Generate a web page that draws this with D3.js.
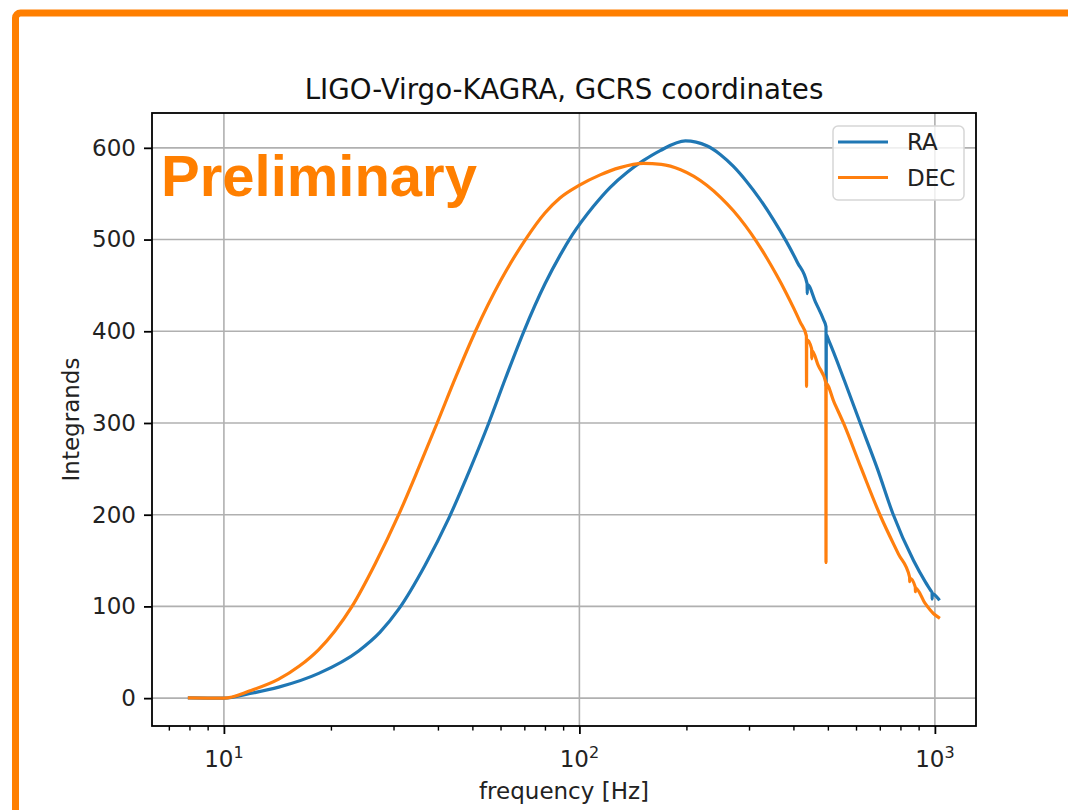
<!DOCTYPE html>
<html>
<head>
<meta charset="utf-8">
<script src="https://cdn.jsdelivr.net/npm/d3@7"></script>
<style>
  body { margin: 0; background: #fff; }
  svg { display: block; font-family: "DejaVu Sans", sans-serif; }
</style>
</head>
<body>
<div id="chart"></div>
<script>
// integrand vs frequency
const freqRA = [8, 9, 10, 11.84, 14.26, 18.48, 23.93, 27.5, 31.02, 36.8, 42.9, 49.3, 55.6, 62, 69.8, 80.1, 88.3, 95.5,
  109.4, 122.1, 136.3, 151.2, 168.8, 198.7, 228.2, 249, 271.2, 294.9, 323, 351.3, 382, 410.5, 437, 437.5, 438,
  461.2, 486.8, 494, 494.5, 495, 502.8, 556.7, 615, 689.3, 762, 870.8, 940.8, 975, 982, 982.5, 983, 1024]
const valRA = [0.2, 0.1, 0, 5, 12, 27, 51.5, 72, 97, 145, 196, 250, 300, 349, 400, 452, 483, 505,
  536, 557, 573.5, 586, 597, 607.6, 602.2, 592.8, 579.7, 563.6, 543.3, 521.8, 498, 475, 452, 441, 451,
  432, 412, 405, 340, 396, 390, 346, 301, 250, 201, 150, 126.5, 117, 115, 108, 114, 108]

const freqDEC = [8, 9, 10, 11.84, 14.26, 16.3, 18.48, 20.5, 22.93, 26.6, 31.02, 35.3, 39.8, 45, 51, 60, 70.5, 80, 88,
  99.8, 114.4, 130, 151.3, 170, 192.7, 210, 228.2, 250, 271.2, 293, 315, 337, 359, 380, 401, 418, 435, 435.5, 436,
  450, 450.5, 451, 470, 493.5, 494, 494.5, 520, 553, 620, 703, 790, 849, 849.5, 850, 881, 881.5, 882, 940, 992, 1024]
const valDEC = [0.3, 0.1, 0, 8, 20.7, 35, 53, 73, 100, 146, 200, 251, 300, 351, 400, 455, 500, 529, 545,
  559, 570.5, 578.4, 583, 582, 576.2, 568.9, 559.2, 545.8, 531.4, 515.2, 497.8, 479.6, 461, 443.2, 425, 410, 395, 340, 391,
  381, 370, 379, 362.5, 344, 148, 343, 323, 300, 251, 198.6, 157, 132, 127, 131, 121, 116, 120, 103, 92, 88]

const yTicks = [0, 100, 200, 300, 400, 500, 600]
const xMajor = [10, 100, 1000]
const xExponents = ["1", "2", "3"]
const seriesNames = ["RA", "DEC"]
const colors = ["#1f77b4", "#ff7f0e"]

const width = 1068
const height = 810
const plot = { left: 152, right: 976, top: 113, bottom: 726 }
const accent = "#ff7f00"

const svg = d3.select("#chart").append("svg")
  .attr("width", width)
  .attr("height", height)

svg.append("rect").attr("width", width).attr("height", height).attr("fill", "#fff")

// orange frame in the corner
svg.append("rect")
  .attr("x", 15.5).attr("y", 13)
  .attr("width", 1200).attr("height", 1000)
  .attr("rx", 5)
  .attr("fill", "none")
  .attr("stroke", accent)
  .attr("stroke-width", 7)

// matplotlib style 5% margins (log space on x)
const allF = freqRA.concat(freqDEC)
const lo = Math.log10(d3.min(allF)), hi = Math.log10(d3.max(allF))
const padF = 0.05 * (hi - lo)
const x = d3.scaleLog()
  .domain([Math.pow(10, lo - padF), Math.pow(10, hi + padF)])
  .range([plot.left, plot.right])

const allV = valRA.concat(valDEC)
const vmin = d3.min(allV), vmax = d3.max(allV)
const padV = 0.05 * (vmax - vmin)
const y = d3.scaleLinear()
  .domain([vmin - padV, vmax + padV])
  .range([plot.bottom, plot.top])

// grid
const grid = svg.append("g").attr("stroke", "#b0b0b0").attr("stroke-width", 1.6)
grid.selectAll(".gx").data(xMajor).join("line")
  .attr("x1", d => x(d)).attr("x2", d => x(d))
  .attr("y1", plot.top).attr("y2", plot.bottom)
grid.selectAll(".gy").data(yTicks).join("line")
  .attr("x1", plot.left).attr("x2", plot.right)
  .attr("y1", d => y(d)).attr("y2", d => y(d))

// lines
svg.append("clipPath").attr("id", "clip")
  .append("rect")
  .attr("x", plot.left).attr("y", plot.top)
  .attr("width", plot.right - plot.left).attr("height", plot.bottom - plot.top)

const line = d3.line()
  .x(d => x(d[0]))
  .y(d => y(d[1]))
  .curve(d3.curveMonotoneX) // the sampled curve is smooth, keep it that way
const series = [d3.zip(freqRA, valRA), d3.zip(freqDEC, valDEC)]

svg.append("g").attr("clip-path", "url(#clip)")
  .selectAll("path")
  .data(series)
  .join("path")
  .attr("d", line)
  .attr("fill", "none")
  .attr("stroke", (d, i) => colors[i])
  .attr("stroke-width", 3.2)
  .attr("stroke-linejoin", "round")
  .attr("stroke-linecap", "square")

// y axis
const yAxis = svg.append("g")
  .attr("transform", `translate(${plot.left},0)`)
  .call(d3.axisLeft(y).tickValues(yTicks).tickSize(8).tickPadding(8))
yAxis.select(".domain").remove()
yAxis.selectAll("line").attr("stroke", "#000").attr("stroke-width", 1.8)
yAxis.selectAll("text").attr("font-size", 23).attr("font-family", "DejaVu Sans").attr("fill", "#222")

// x axis, minor then major ticks
const xMinor = []
for (let dec = 1; dec <= 1000; dec *= 10) {
  for (let k = 2; k <= 9; k++) {
    const v = k * dec
    if (v > x.domain()[0] && v < x.domain()[1]) xMinor.push(v)
  }
}
const xMinorAxis = svg.append("g")
  .attr("transform", `translate(0,${plot.bottom})`)
  .call(d3.axisBottom(x).tickValues(xMinor).tickSize(4.6).tickFormat(""))
xMinorAxis.select(".domain").remove()
xMinorAxis.selectAll("line").attr("stroke", "#000").attr("stroke-width", 1.4)

const xAxis = svg.append("g")
  .attr("transform", `translate(0,${plot.bottom})`)
  .call(d3.axisBottom(x).tickValues(xMajor).tickSize(8).tickFormat(""))
xAxis.select(".domain").remove()
xAxis.selectAll("line").attr("stroke", "#000").attr("stroke-width", 1.8)

const xLabels = svg.append("g")
  .selectAll("text")
  .data(xMajor)
  .join("text")
  .attr("x", d => x(d))
  .attr("y", plot.bottom + 41)
  .attr("text-anchor", "middle")
  .attr("font-size", 23)
  .attr("fill", "#222")
xLabels.append("tspan").text("10")
xLabels.append("tspan")
  .attr("font-size", 16)
  .attr("dy", -8.6)
  .text((d, i) => xExponents[i])

// spines
svg.append("rect")
  .attr("x", plot.left).attr("y", plot.top)
  .attr("width", plot.right - plot.left).attr("height", plot.bottom - plot.top)
  .attr("fill", "none")
  .attr("stroke", "#000")
  .attr("stroke-width", 1.8)

// labels
svg.append("text")
  .attr("x", (plot.left + plot.right) / 2)
  .attr("y", 99)
  .attr("text-anchor", "middle")
  .attr("font-size", 27.7)
  .attr("fill", "#111")
  .text("LIGO-Virgo-KAGRA, GCRS coordinates")

svg.append("text")
  .attr("x", (plot.left + plot.right) / 2)
  .attr("y", 799)
  .attr("text-anchor", "middle")
  .attr("font-size", 23)
  .attr("fill", "#222")
  .text("frequency [Hz]")

svg.append("text")
  .attr("transform", `translate(79,${(plot.top + plot.bottom) / 2}) rotate(-90)`)
  .attr("text-anchor", "middle")
  .attr("font-size", 23)
  .attr("fill", "#222")
  .text("Integrands")

// legend
const legend = svg.append("g").attr("transform", "translate(833,126)")
legend.append("rect")
  .attr("width", 131).attr("height", 74)
  .attr("rx", 5)
  .attr("fill", "#fff").attr("fill-opacity", 0.8)
  .attr("stroke", "#d6d6d6").attr("stroke-width", 1.5)
const items = legend.selectAll("g.item")
  .data(seriesNames)
  .join("g")
  .attr("transform", (d, i) => `translate(0,${16 + i * 35.5})`)
items.append("line")
  .attr("x1", 5).attr("x2", 55)
  .attr("stroke", (d, i) => colors[i])
  .attr("stroke-width", 3.2)
items.append("text")
  .attr("x", 74).attr("y", 8)
  .attr("font-size", 23)
  .attr("fill", "#222")
  .text(d => d)

// watermark
svg.append("text")
  .attr("x", 161).attr("y", 196)
  .attr("font-family", "Liberation Sans, Arial, sans-serif")
  .attr("font-weight", "bold")
  .attr("font-size", 58)
  .attr("fill", accent)
  .text("Preliminary")
</script>
</body>
</html>
